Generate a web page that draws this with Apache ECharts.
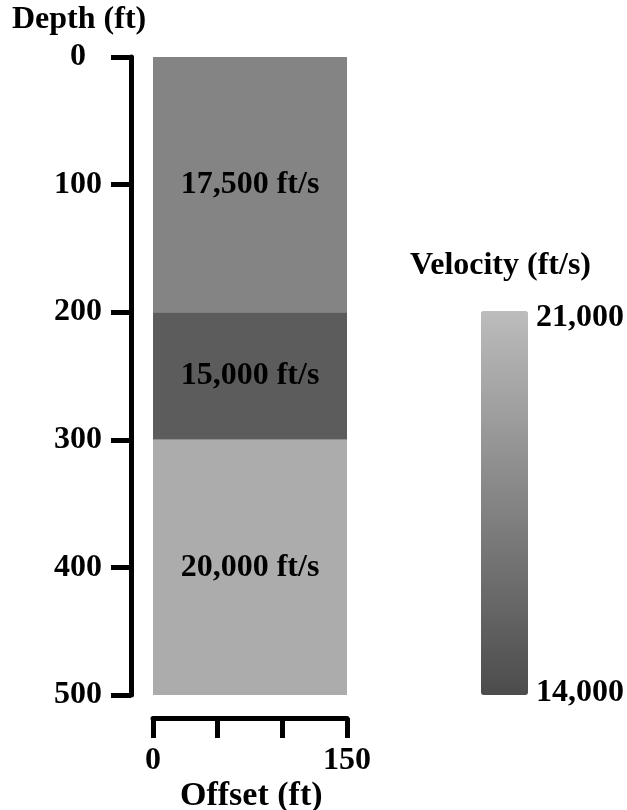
<!DOCTYPE html>
<html>
<head>
    <meta charset="utf-8">
    <title>Velocity model</title>
    <script src="https://cdn.jsdelivr.net/npm/echarts@6.0.0/dist/echarts.min.js"></script>
    <style>
        html, body { margin: 0; padding: 0; background: #fff; }
    </style>
</head>
<body>
    <div id="main" style="width: 627px;height:810px;"></div>

<script>
// layer model
const layerTop = [0, 200, 300];
const layerBottom = [200, 300, 500];
const layerVelocity = [17500, 15000, 20000];
const layerLabels = ['17,500 ft/s', '15,000 ft/s', '20,000 ft/s'];

// axes
const depthTicks = [0, 100, 200, 300, 400, 500];
const offsetTicks = [0, 50, 100, 150];
const offsetLabels = ['0', '', '', '150'];
const velocityRange = [14000, 21000];

const FONT = '"Liberation Serif", "DejaVu Serif", serif';
const FS = 32;
const textStyle = { fontFamily: FONT, fontWeight: 'bold', fontSize: FS, color: '#000' };

const myChart = echarts.init(document.getElementById('main'), null, { renderer: 'canvas' });

const data = layerTop.map((t, i) => [t, layerBottom[i], layerVelocity[i], i]);

const option = {
    backgroundColor: '#fff',
    animation: false,
    grid: [
        { left: 153, top: 57, width: 194, height: 638 },
        // colorbar labels (the bar itself is the visualMap)
        { left: 481, top: 318, width: 47, height: 375 }
    ],
    xAxis: [{
        gridIndex: 0,
        type: 'value',
        min: 0,
        max: 150,
        interval: 50,
        position: 'bottom',
        offset: 23,
        splitLine: { show: false },
        axisLine: { onZero: false, lineStyle: { color: '#000', width: 5 } },
        axisTick: { length: 20, lineStyle: { color: '#000', width: 5 } },
        axisLabel: {
            ...textStyle,
            margin: 27,
            formatter: v => offsetLabels[offsetTicks.indexOf(v)] || ''
        }
    }, {
        gridIndex: 1,
        type: 'value',
        show: false
    }],
    yAxis: [{
        gridIndex: 0,
        type: 'value',
        inverse: true,
        min: depthTicks[0],
        max: depthTicks[depthTicks.length - 1],
        interval: 100,
        position: 'left',
        offset: 22,
        splitLine: { show: false },
        axisLine: { onZero: false, lineStyle: { color: '#000', width: 5 } },
        axisTick: { length: 20, lineStyle: { color: '#000', width: 5 } },
        axisLabel: { ...textStyle, margin: 53, align: 'center' }
    }, {
        gridIndex: 1,
        type: 'value',
        position: 'right',
        min: velocityRange[0],
        max: velocityRange[1],
        interval: velocityRange[1] - velocityRange[0],
        splitLine: { show: false },
        axisLine: { show: false },
        axisTick: { show: false },
        axisLabel: {
            ...textStyle,
            margin: 10,
            formatter: v => v.toLocaleString('en-US')
        }
    }],
    visualMap: {
        type: 'continuous',
        min: velocityRange[0],
        max: velocityRange[1],
        dimension: 2,
        seriesIndex: 0,
        left: 481,
        top: 311,
        itemWidth: 47,
        itemHeight: 384,
        calculable: false,
        showLabel: false,
        text: null,
        padding: 0,
        inRange: { color: ['#4c4c4c', '#bcbcbc'] }
    },
    graphic: [
        { type: 'text', left: 12, top: 4, style: { text: 'Depth (ft)', font: 'bold 32px ' + FONT, fill: '#000' } },
        { type: 'text', left: 410, top: 250, style: { text: 'Velocity (ft/s)', font: 'bold 32px ' + FONT, fill: '#000' } },
        { type: 'text', left: 180, top: 779, style: { text: 'Offset (ft)', font: 'bold 34px ' + FONT, fill: '#000' } }
    ],
    series: [{
        type: 'custom',
        xAxisIndex: 0,
        yAxisIndex: 0,
        data: data,
        encode: { y: [0, 1] },
        renderItem: (params, api) => {
            const p0 = api.coord([0, api.value(0)]);
            const p1 = api.coord([150, api.value(1)]);
            const idx = api.value(3);
            return {
                type: 'group',
                children: [{
                    type: 'rect',
                    shape: { x: p0[0], y: p0[1], width: p1[0] - p0[0], height: p1[1] - p0[1] },
                    style: { fill: api.visual('color') }
                }, {
                    type: 'text',
                    x: (p0[0] + p1[0]) / 2,
                    y: (p0[1] + p1[1]) / 2,
                    style: {
                        text: layerLabels[idx],
                        font: 'bold 32px ' + FONT,
                        fill: '#000',
                        align: 'center',
                        verticalAlign: 'middle'
                    }
                }]
            };
        }
    }]
};

myChart.setOption(option);
</script>
</body>
</html>
